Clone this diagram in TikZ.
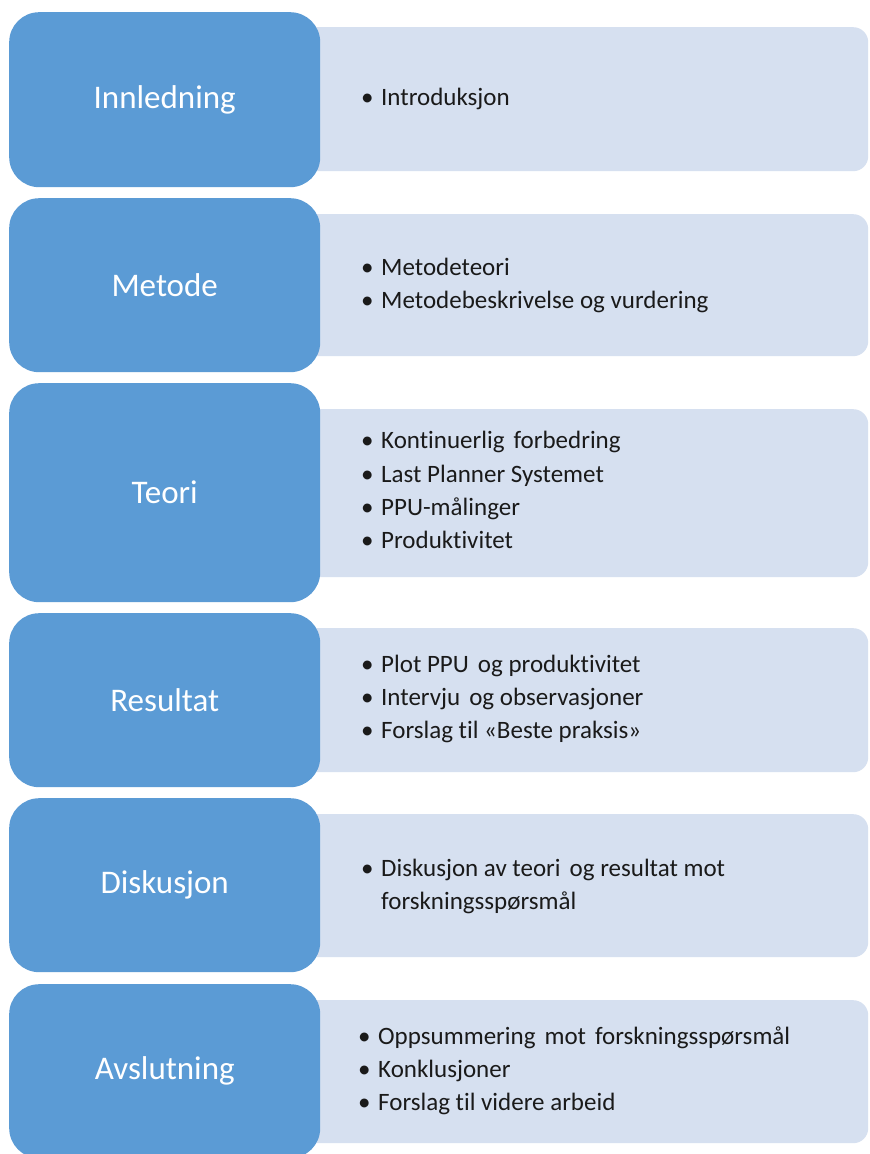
\documentclass[tikz,border=0pt]{standalone}
\usepackage{fontspec}
\setmainfont{Carlito}[Ligatures=NoCommon]
\definecolor{mainblue}{HTML}{5B9BD5}
\definecolor{lightblue}{HTML}{D6E0F0}
\definecolor{txt}{HTML}{1A1A1A}
\newcommand\bul{\makebox[20pt][l]{•}}
\newcommand\nobul{\makebox[20pt][l]{}}
\newcommand\wsp{\hspace{9pt}}
\begin{document}
\begin{tikzpicture}[x=1pt,y=-1pt,
  head/.style={fill=mainblue, rounded corners=30pt, text=white,
    font=\fontsize{33}{40}\selectfont, minimum width=311pt, inner sep=0pt, anchor=north west},
  panel/.style={fill=lightblue, rounded corners=15pt, minimum width=578pt, inner sep=0pt, anchor=north west},
  items/.style={anchor=west, text=txt, font=\fontsize{25}{33.3}\selectfont, inner sep=0pt}]
\useasboundingbox (0,0) rectangle (870,1154);
\clip (0,0) rectangle (870,1154);
\fill[white] (0,0) rectangle (870,1154);

% light panels
\node[panel, minimum height=144pt] (p1) at (290,27) {};
\node[panel, minimum height=142pt] (p2) at (290,214) {};
\node[panel, minimum height=168pt] (p3) at (290,409) {};
\node[panel, minimum height=144pt] (p4) at (290,628) {};
\node[panel, minimum height=143pt] (p5) at (290,814) {};
\node[panel, minimum height=143pt] (p6) at (290,1000) {};

% blue heads
\node[head, minimum height=175pt] (h1) at (9,12) {Innledning};
\node[head, minimum height=174pt] (h2) at (9,198) {Metode};
\node[head, minimum height=219pt] (h3) at (9,383) {Teori};
\node[head, minimum height=174pt] (h4) at (9,613) {Resultat};
\node[head, minimum height=174pt] (h5) at (9,798) {Diskusjon};
\node[head, minimum height=174pt] (h6) at (9,984) {Avslutning};

% bullet lists
\node[items] (l1) at (361,99) {\begin{tabular}{@{}l@{}l@{}}\bul & Introduksjon\end{tabular}};
\node[items] (l2) at (361,285) {\begin{tabular}{@{}l@{}l@{}}\bul & Metodeteori\\ \bul & Metodebeskrivelse og vurdering\end{tabular}};
\node[items] (l3) at (361,492) {\begin{tabular}{@{}l@{}l@{}}\bul & Kontinuerlig\wsp forbedring\\ \bul & Last Planner Systemet\\ \bul & PPU-målinger\\ \bul & Produktivitet\end{tabular}};
\node[items] (l4) at (361,699) {\begin{tabular}{@{}l@{}l@{}}\bul & Plot PPU\wsp og produktivitet\\ \bul & Intervju\wsp og observasjoner\\ \bul & Forslag til «Beste praksis»\end{tabular}};
\node[items] (l5) at (361,886) {\begin{tabular}{@{}l@{}l@{}}\bul & Diskusjon av teori\wsp og resultat mot\\ \nobul & forskningsspørsmål\end{tabular}};
\node[items] (l6) at (358,1071) {\begin{tabular}{@{}l@{}l@{}}\bul & Oppsummering\wsp mot\wsp forskningsspørsmål\\ \bul & Konklusjoner\\ \bul & Forslag til videre arbeid\end{tabular}};
\end{tikzpicture}
\end{document}
